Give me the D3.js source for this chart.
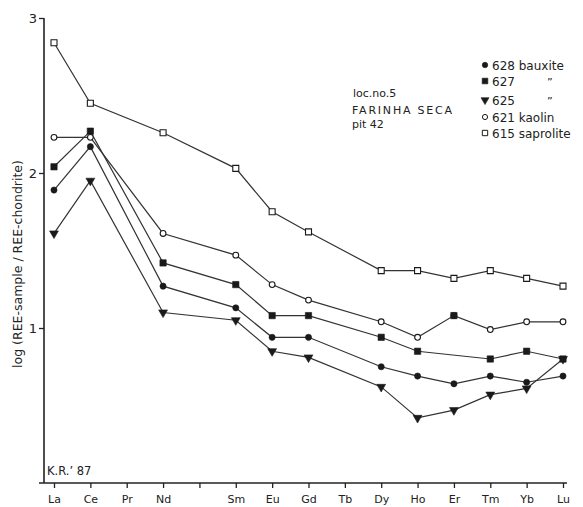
<!DOCTYPE html>
<html>
<head>
<meta charset="utf-8">
<script src="https://cdn.jsdelivr.net/npm/d3@7"></script>
<style>
  body { margin: 0; background: #fff; }
  svg text { font-family: "DejaVu Sans", sans-serif; fill: #222; }
</style>
</head>
<body>
<svg id="chart" width="583" height="507"></svg>
<script>
// rare earth elements along the x axis (Pm has a tick but no label)
const elements = ["La", "Ce", "Pr", "Nd", "Pm", "Sm", "Eu", "Gd", "Tb", "Dy", "Ho", "Er", "Tm", "Yb", "Lu"];
const elementLabels = ["La", "Ce", "Pr", "Nd", "", "Sm", "Eu", "Gd", "Tb", "Dy", "Ho", "Er", "Tm", "Yb", "Lu"];
const yTicks = [1, 2, 3];

// log(REE-sample / REE-chondrite), null = not measured
const s628 = [1.89, 2.17, null, 1.27, null, 1.13, 0.94, 0.94, null, 0.75, 0.69, 0.64, 0.69, 0.65, 0.69];
const s627 = [2.04, 2.27, null, 1.42, null, 1.28, 1.08, 1.08, null, 0.94, 0.85, 1.08, 0.80, 0.85, 0.80];
const s625 = [1.61, 1.95, null, 1.10, null, 1.05, 0.85, 0.81, null, 0.62, 0.42, 0.47, 0.57, 0.61, 0.80];
const s621 = [2.23, 2.23, null, 1.61, null, 1.47, 1.28, 1.18, null, 1.04, 0.94, 1.08, 0.99, 1.04, 1.04];
const s615 = [2.84, 2.45, null, 2.26, null, 2.03, 1.75, 1.62, null, 1.37, 1.37, 1.32, 1.37, 1.32, 1.27];

// the Er point of 627 is plotted but not joined by its line in the original
const s627LineSkip = ["Er"];

const legendLabels = ["628 bauxite", "627", "625", "621  kaolin", "615  saprolite"];

const svg = d3.select("#chart");

const x = d3.scalePoint().domain(elements).range([54, 563]);
const y = d3.scaleLinear().domain([0, 3]).range([483, 18]);

const series = [
  { id: "615", values: s615, symbol: d3.symbolSquare, size: 36, filled: false, skip: [] },
  { id: "621", values: s621, symbol: d3.symbolCircle, size: 26, filled: false, skip: [] },
  { id: "625", values: s625, symbol: d3.symbolTriangle, size: 34, filled: true, flip: true, skip: [] },
  { id: "628", values: s628, symbol: d3.symbolCircle, size: 30, filled: true, skip: [] },
  { id: "627", values: s627, symbol: d3.symbolSquare, size: 40, filled: true, skip: s627LineSkip }
];

// axes
const xAxis = d3.axisBottom(x).tickSize(5).tickSizeOuter(0).tickFormat((d, i) => elementLabels[i]);
const gx = svg.append("g").attr("transform", "translate(0,483)").call(xAxis);
gx.select(".domain").remove();
gx.append("line").attr("x1", 39).attr("x2", 567).attr("y1", 0).attr("y2", 0)
  .attr("stroke", "#222").attr("stroke-width", 1.6);
gx.selectAll(".tick line").attr("stroke", "#222").attr("stroke-width", 1.3);
gx.selectAll(".tick text").attr("dy", "1.1em").style("font-size", "11px").attr("fill", "#222");

const yAxis = d3.axisLeft(y).tickValues(yTicks).tickSize(5).tickSizeOuter(0).tickFormat(d3.format("d"));
const gy = svg.append("g").attr("transform", "translate(44,0)").call(yAxis);
gy.select(".domain").remove();
gy.append("line").attr("x1", 0).attr("x2", 0).attr("y1", y(3)).attr("y2", y(0))
  .attr("stroke", "#222").attr("stroke-width", 1.6);
gy.selectAll(".tick line").attr("stroke", "#222").attr("stroke-width", 1.3);
gy.selectAll(".tick text").style("font-size", "13px").attr("x", -7).attr("fill", "#222");

svg.append("text")
  .attr("transform", "translate(22,264) rotate(-90)")
  .attr("text-anchor", "middle")
  .style("font-size", "12.5px")
  .text("log (REE-sample / REE-chondrite)");

svg.append("text").attr("x", 47).attr("y", 475).style("font-size", "11.5px").text("K.R.\u2019 87");

// lines
const line = d3.line().x(d => x(d.el)).y(d => y(d.v));
series.forEach(s => {
  const pts = elements.map((el, i) => ({ el: el, v: s.values[i] }))
    .filter(d => d.v !== null && !s.skip.includes(d.el));
  svg.append("path").datum(pts).attr("d", line)
    .attr("fill", "none").attr("stroke", "#333").attr("stroke-width", 1.2);
});

// markers
series.forEach(s => {
  const pts = elements.map((el, i) => ({ el: el, v: s.values[i] })).filter(d => d.v !== null);
  svg.append("g").selectAll("path").data(pts).join("path")
    .attr("d", d3.symbol().type(s.symbol).size(s.size))
    .attr("transform", d => `translate(${x(d.el)},${y(d.v)})` + (s.flip ? " rotate(180)" : ""))
    .attr("fill", s.filled ? "#1a1a1a" : "#fff")
    .attr("stroke", "#1a1a1a").attr("stroke-width", s.filled ? 0.6 : 1.1);
});

// annotation
const note = svg.append("text").style("font-size", "11px");
note.append("tspan").attr("x", 353).attr("y", 97).text("loc.no.5");
note.append("tspan").attr("x", 352).attr("y", 114).attr("textLength", 100).text("FARINHA SECA");
note.append("tspan").attr("x", 352).attr("y", 127.5).text("pit 42");

// legend
const legendOrder = [series[3], series[4], series[2], series[1], series[0]];
const legendY = [65, 81, 100, 117, 133];
legendOrder.forEach((s, i) => {
  svg.append("path")
    .attr("d", d3.symbol().type(s.symbol).size(s.size * 0.8))
    .attr("transform", `translate(485,${legendY[i]})` + (s.flip ? " rotate(180)" : ""))
    .attr("fill", s.filled ? "#1a1a1a" : "#fff")
    .attr("stroke", "#1a1a1a").attr("stroke-width", s.filled ? 0.6 : 1);
  svg.append("text").attr("x", 492).attr("y", legendY[i] + 4.5)
    .style("font-size", "12px").text(legendLabels[i]);
  if (i === 1 || i === 2) {
    svg.append("text").attr("x", 547).attr("y", legendY[i] + 5)
      .style("font-size", "11px").text("\u201D");
  }
});
</script>
</body>
</html>
